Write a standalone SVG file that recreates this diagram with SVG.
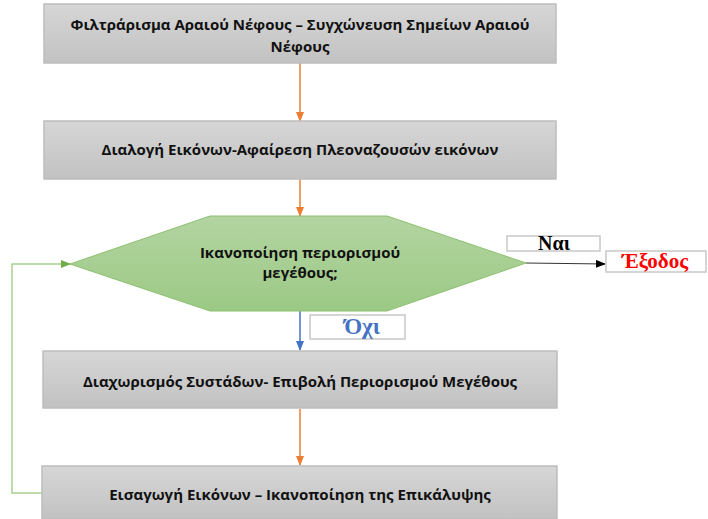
<svg xmlns="http://www.w3.org/2000/svg" width="708" height="519" viewBox="0 0 708 519">
<defs>
<linearGradient id="gbox" x1="0" y1="0" x2="0" y2="1">
<stop offset="0" stop-color="#d6d6d6"/>
<stop offset="1" stop-color="#c2c2c2"/>
</linearGradient>
<linearGradient id="ggreen" x1="0" y1="0" x2="0" y2="1">
<stop offset="0" stop-color="#b3d4a1"/>
<stop offset="1" stop-color="#9cc985"/>
</linearGradient>
<marker id="aor" markerWidth="10" markerHeight="8" refX="9" refY="4" orient="auto" markerUnits="userSpaceOnUse">
<path d="M0,0 L10,4 L0,8 Z" fill="#ed7d31"/>
</marker>
<marker id="abl" markerWidth="10" markerHeight="8" refX="9" refY="4" orient="auto" markerUnits="userSpaceOnUse">
<path d="M0,0 L10,4 L0,8 Z" fill="#4472c4"/>
</marker>
<marker id="abk" markerWidth="10" markerHeight="8" refX="9" refY="4" orient="auto" markerUnits="userSpaceOnUse">
<path d="M0,0 L10,4 L0,8 Z" fill="#000"/>
</marker>
<marker id="agr" markerWidth="10" markerHeight="8" refX="9" refY="4" orient="auto" markerUnits="userSpaceOnUse">
<path d="M0,0 L10,4 L0,8 Z" fill="#70ad47"/>
</marker>
</defs>
<style>
.box{fill:url(#gbox);stroke:#bdbdbd;stroke-width:1.5}
.t{font-family:"Open Sans","Liberation Sans",sans-serif;font-weight:bold;font-size:15px;fill:#111;text-anchor:middle}
.lbl{fill:#fff;stroke:#c8c8c8;stroke-width:1.5}
.s{font-family:"Liberation Serif","DejaVu Serif",serif;font-weight:bold;font-size:20px;text-anchor:middle}
</style>
<rect width="708" height="519" fill="#fff"/>
<g id="connectors">
<line x1="300" y1="63" x2="300" y2="121" stroke="#ed7d31" stroke-width="1.5" marker-end="url(#aor)"/>
<line x1="300" y1="179" x2="300" y2="216" stroke="#ed7d31" stroke-width="1.5" marker-end="url(#aor)"/>
<line x1="300" y1="311" x2="300" y2="350" stroke="#4472c4" stroke-width="1.5" marker-end="url(#abl)"/>
<line x1="300" y1="409" x2="300" y2="465" stroke="#ed7d31" stroke-width="1.5" marker-end="url(#aor)"/>
<line x1="526" y1="263" x2="605" y2="264" stroke="#333" stroke-width="1" marker-end="url(#abk)"/>
<polyline points="43,493 12,493 12,264 70,264" fill="none" stroke="#a9d18e" stroke-width="1.5" marker-end="url(#agr)"/>
</g>
<g id="n1">
<rect class="box" x="44" y="4" width="512" height="59"/>
<text class="t" x="300" y="30">Φιλτράρισμα Αραιού Νέφους – Συγχώνευση Σημείων Αραιού</text>
<text class="t" x="300" y="52">Νέφους</text>
</g>
<g id="n2">
<rect class="box" x="44" y="121" width="512" height="58"/>
<text class="t" x="300" y="155">Διαλογή Εικόνων-Αφαίρεση Πλεοναζουσών εικόνων</text>
</g>
<g id="n3">
<polygon points="70,264 210,216 387,216 526,263 387,311 210,311" fill="url(#ggreen)" stroke="#8cc06e" stroke-width="1"/>
<text class="t" x="300" y="258">Ικανοποίηση περιορισμού</text>
<text class="t" x="300" y="278">μεγέθους;</text>
</g>
<g id="n4">
<rect class="box" x="43" y="351" width="514" height="57"/>
<text class="t" x="300" y="387">Διαχωρισμός Συστάδων- Επιβολή Περιορισμού Μεγέθους</text>
</g>
<g id="n5">
<rect class="box" x="42" y="466" width="515" height="53"/>
<text class="t" x="300" y="500">Εισαγωγή Εικόνων – Ικανοποίηση της Επικάλυψης</text>
</g>
<g id="l-nai">
<rect class="lbl" x="507" y="236" width="93" height="15"/>
<text class="s" x="554" y="250" fill="#000">Ναι</text>
</g>
<g id="l-exit">
<rect class="lbl" x="606" y="251" width="100" height="21"/>
<text class="s" x="655" y="268" fill="#ff0000" style="font-size:21px">Έξοδος</text>
</g>
<g id="l-ochi">
<rect class="lbl" x="310" y="315" width="95" height="24"/>
<text class="s" x="362" y="334" fill="#4472c4" style="font-size:23px">Όχι</text>
</g>
</svg>
